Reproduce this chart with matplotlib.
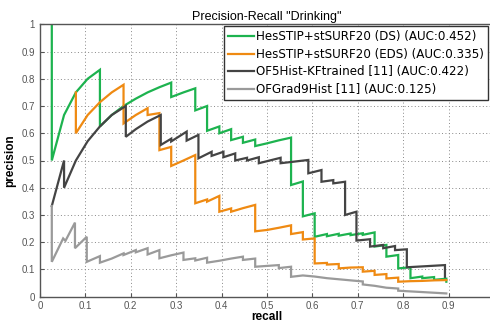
import matplotlib
matplotlib.use("Agg")
import matplotlib.pyplot as plt
from matplotlib.ticker import FuncFormatter

plt.rcParams['font.family'] = ['Liberation Sans', 'DejaVu Sans']

# HesSTIP+stSURF20 (DS)
ds_recall = [0.026, 0.026, 0.053, 0.079, 0.105, 0.132, 0.132, 0.158, 0.184, 0.211, 0.237, 0.263,
             0.289, 0.289, 0.316, 0.342, 0.342, 0.368, 0.368, 0.395, 0.395, 0.421, 0.421, 0.447,
             0.447, 0.474, 0.474, 0.500, 0.526, 0.553, 0.553, 0.579, 0.579, 0.605, 0.605, 0.632,
             0.632, 0.658, 0.658, 0.684, 0.684, 0.711, 0.711, 0.737, 0.737, 0.763, 0.763, 0.789,
             0.789, 0.816, 0.816, 0.842, 0.842, 0.868, 0.868, 0.895, 0.895]
ds_prec = [1.0, 0.5, 0.667, 0.75, 0.8, 0.833, 0.625, 0.667, 0.70, 0.727, 0.75, 0.769,
           0.786, 0.733, 0.75, 0.765, 0.684, 0.70, 0.609, 0.625, 0.60, 0.615, 0.575, 0.587,
           0.565, 0.577, 0.553, 0.563, 0.574, 0.584, 0.41, 0.423, 0.295, 0.306, 0.22, 0.23,
           0.222, 0.231, 0.224, 0.232, 0.226, 0.233, 0.227, 0.236, 0.184, 0.19, 0.147, 0.153,
           0.104, 0.108, 0.068, 0.074, 0.068, 0.072, 0.062, 0.066, 0.055]

# HesSTIP+stSURF20 (EDS)
eds_recall = [0.079, 0.079, 0.105, 0.132, 0.158, 0.184, 0.184, 0.211, 0.237, 0.237, 0.263, 0.263,
              0.289, 0.289, 0.316, 0.342, 0.342, 0.368, 0.368, 0.395, 0.395, 0.421, 0.421, 0.447,
              0.474, 0.474, 0.500, 0.526, 0.553, 0.553, 0.579, 0.579, 0.605, 0.605, 0.632, 0.632,
              0.658, 0.658, 0.684, 0.711, 0.711, 0.737, 0.737, 0.763, 0.763, 0.789, 0.789, 0.816,
              0.842, 0.868, 0.895]
eds_prec = [0.75, 0.60, 0.667, 0.714, 0.75, 0.778, 0.636, 0.667, 0.692, 0.667, 0.674, 0.538,
            0.55, 0.48, 0.50, 0.52, 0.343, 0.357, 0.349, 0.37, 0.312, 0.324, 0.312, 0.325,
            0.337, 0.24, 0.245, 0.253, 0.262, 0.23, 0.237, 0.21, 0.214, 0.122, 0.124, 0.118,
            0.12, 0.104, 0.107, 0.108, 0.092, 0.095, 0.08, 0.083, 0.067, 0.07, 0.055, 0.057,
            0.058, 0.06, 0.061]

# OF5Hist-KFtrained [11]
kf_recall = [0.026, 0.053, 0.053, 0.079, 0.105, 0.132, 0.158, 0.189, 0.189, 0.211, 0.237, 0.266,
             0.266, 0.289, 0.289, 0.323, 0.323, 0.349, 0.349, 0.378, 0.378, 0.404, 0.404, 0.43,
             0.43, 0.456, 0.456, 0.482, 0.482, 0.53, 0.53, 0.591, 0.591, 0.62, 0.62, 0.646,
             0.646, 0.672, 0.672, 0.697, 0.697, 0.727, 0.727, 0.756, 0.756, 0.782, 0.782, 0.808,
             0.808, 0.892, 0.892]
kf_prec = [0.333, 0.5, 0.4, 0.5, 0.571, 0.625, 0.667, 0.70, 0.587, 0.615, 0.643, 0.667,
           0.557, 0.58, 0.57, 0.606, 0.573, 0.594, 0.508, 0.532, 0.517, 0.532, 0.512, 0.526,
           0.50, 0.51, 0.50, 0.512, 0.49, 0.51, 0.49, 0.502, 0.453, 0.465, 0.422, 0.428,
           0.416, 0.422, 0.30, 0.312, 0.206, 0.211, 0.184, 0.19, 0.178, 0.186, 0.171, 0.174,
           0.108, 0.116, 0.073]

# OFGrad9Hist [11]
og_recall = [0.026, 0.026, 0.051, 0.056, 0.077, 0.077, 0.103, 0.103, 0.132, 0.132, 0.158, 0.184,
             0.184, 0.211, 0.211, 0.237, 0.237, 0.263, 0.263, 0.289, 0.316, 0.316, 0.342, 0.342,
             0.368, 0.368, 0.395, 0.421, 0.447, 0.447, 0.474, 0.474, 0.500, 0.526, 0.526, 0.553,
             0.553, 0.579, 0.605, 0.632, 0.658, 0.684, 0.711, 0.711, 0.737, 0.763, 0.789, 0.789,
             0.842, 0.895]
og_prec = [0.333, 0.128, 0.214, 0.205, 0.272, 0.178, 0.22, 0.128, 0.149, 0.125, 0.14, 0.159,
           0.153, 0.171, 0.163, 0.178, 0.155, 0.171, 0.141, 0.152, 0.162, 0.135, 0.141, 0.133,
           0.143, 0.125, 0.132, 0.14, 0.147, 0.135, 0.14, 0.11, 0.113, 0.116, 0.105, 0.11,
           0.073, 0.078, 0.074, 0.068, 0.064, 0.06, 0.056, 0.045, 0.04, 0.033, 0.03, 0.022,
           0.017, 0.012]

labels = ["HesSTIP+stSURF20 (DS) (AUC:0.452)",
          "HesSTIP+stSURF20 (EDS) (AUC:0.335)",
          "OF5Hist-KFtrained [11] (AUC:0.422)",
          "OFGrad9Hist [11] (AUC:0.125)"]
colors = ["#1db34f", "#ef8a12", "#444444", "#9a9a9a"]

fig = plt.figure(figsize=(4.9, 3.26), dpi=100)
W, H = 490, 326
ax = fig.add_axes([40 / W, (H - 296.7) / H, 454 / W, 272.4 / H])

curves = [(ds_recall, ds_prec), (eds_recall, eds_prec), (kf_recall, kf_prec), (og_recall, og_prec)]
for (r, p), c, lab in zip(curves, colors, labels):
    ax.plot(r, p, color=c, lw=1.6, label=lab, solid_joinstyle='miter')

ax.set_xlim(0, 1)
ax.set_ylim(0, 1)
ax.set_xticks([i / 10 for i in range(11)])
ax.set_yticks([i / 10 for i in range(11)])
# the 1.0 x tick sits past the picture's right edge, so no label there
ax.xaxis.set_major_formatter(FuncFormatter(lambda v, pos: "" if v > 0.95 else "%g" % round(v, 1)))
ax.yaxis.set_major_formatter(FuncFormatter(lambda v, pos: "%g" % round(v, 1)))
ax.tick_params(direction='in', length=3, labelsize=7, colors='#555555', labelcolor='#555555')
ax.tick_params(axis='x', pad=3)
ax.grid(True, linestyle=(0, (1, 2.5)), color='#888888', lw=0.7)
for s in ax.spines.values():
    s.set_color('#555555')
    s.set_linewidth(1.0)

ax.set_title('Precision-Recall "Drinking"', fontsize=9, pad=3)
ax.set_xlabel("recall", fontsize=8.5, fontweight='bold', labelpad=0)
ax.set_ylabel("precision", fontsize=8.5, fontweight='bold', labelpad=4)

leg = ax.legend(loc='upper left', bbox_to_anchor=((224 - 40) / 454, (296.7 - 26) / 272.4),
                borderaxespad=0, prop={'family': 'DejaVu Sans', 'size': 8.6},
                handlelength=2.2, handletextpad=0.15, labelspacing=0.38, borderpad=0.35,
                frameon=True, fancybox=False)
leg.get_frame().set_edgecolor('#333333')
leg.get_frame().set_linewidth(1.0)
leg.get_frame().set_alpha(1)

fig.savefig("out.png", dpi=100)
